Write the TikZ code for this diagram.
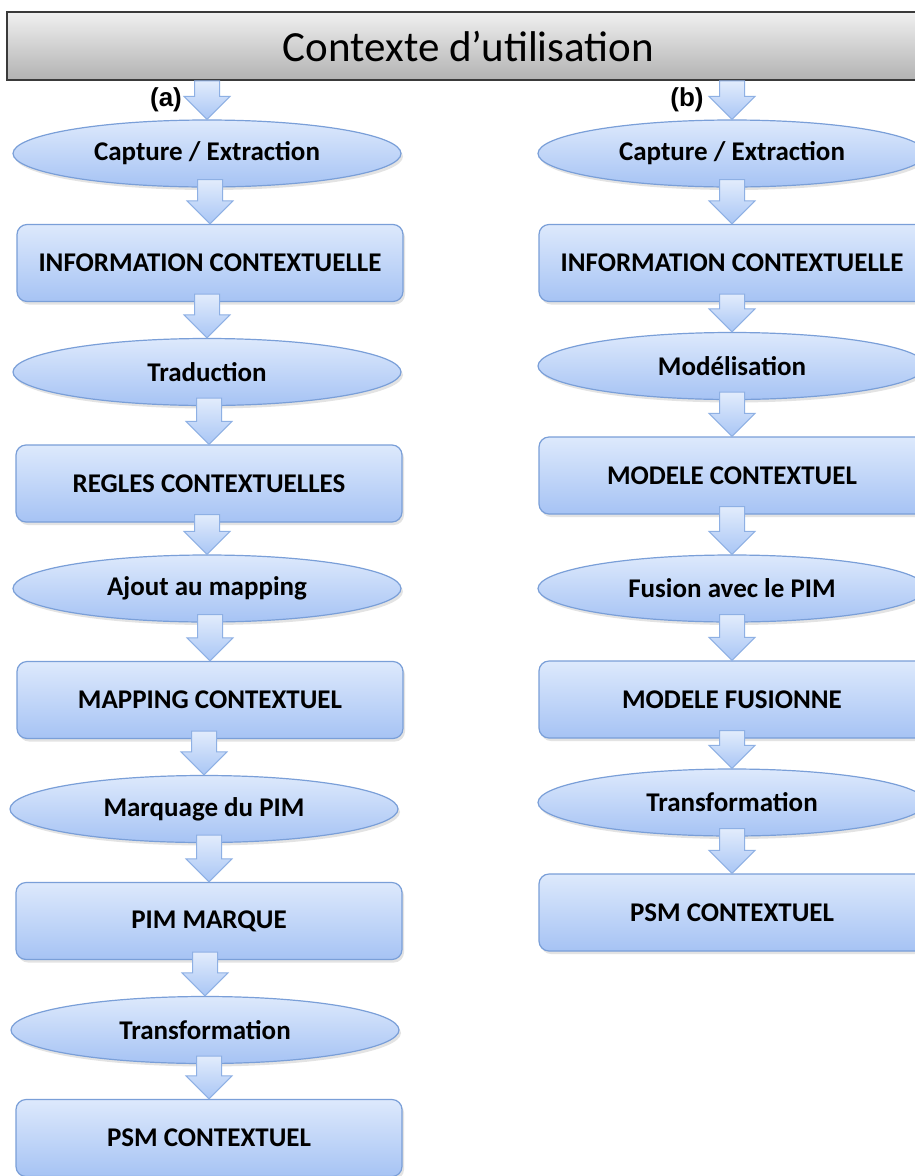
\documentclass[tikz,border=0pt]{standalone}
\usepackage{fontspec}
\setmainfont{Carlito}
\newfontfamily\labelfont{Liberation Sans}
\usetikzlibrary{shapes.geometric,shadows,calc}

\definecolor{boxtop}{HTML}{DDE9FC}
\definecolor{boxbot}{HTML}{A6C3F4}
\definecolor{boxline}{HTML}{7A9FD8}
\definecolor{arrowtop}{HTML}{E2ECFC}
\definecolor{arrowbot}{HTML}{A9C6F5}
\definecolor{arrowline}{HTML}{8EB0E4}
\definecolor{hdrtop}{HTML}{F0F0F0}
\definecolor{hdrbot}{HTML}{B2B2B2}
\definecolor{hdrline}{HTML}{3A3A3A}

\tikzset{
  stage/.style={draw=boxline, line width=1.2pt, top color=boxtop, bottom color=boxbot,
    drop shadow={opacity=0.22, shadow xshift=2pt, shadow yshift=-3pt},
    font=\fontsize{27}{32}\selectfont\bfseries, text=black, inner sep=0pt},
  box/.style={stage, rectangle, rounded corners=10pt, minimum width=386pt, minimum height=77pt},
  oval/.style={stage, ellipse, minimum width=388pt, minimum height=67pt},
  hdr/.style={rectangle, draw=hdrline, line width=1.5pt, top color=hdrtop, bottom color=hdrbot,
    minimum width=923pt, minimum height=68pt, inner sep=0pt,
    font=\fontsize{43}{50}\selectfont, text=black},
  lbl/.style={font=\labelfont\fontsize{26}{30}\selectfont\bfseries, inner sep=0pt},
  flow/.style={draw=arrowline, line width=1pt, top color=arrowtop, bottom color=arrowbot, line join=miter},
}

% block arrow from the bottom of #2 to the top of #3; #1 = overlap into #2
\newcommand\flowarrow[3][8]{%
  \path[flow] let \p1=(#2.south), \p2=(#3.north) in
    ({\x2-12.5pt},{\y1+#1pt}) -- ({\x2+12.5pt},{\y1+#1pt}) -- ({\x2+12.5pt},{\y2+23pt})
    -- ({\x2+23pt},{\y2+23pt}) -- (\x2,\y2) -- ({\x2-23pt},{\y2+23pt})
    -- ({\x2-12.5pt},{\y2+23pt}) -- cycle;}

\begin{document}
\begin{tikzpicture}[x=1pt,y=-1pt]
  \useasboundingbox (0,0) rectangle (915,1176);
  \fill[white] (0,0) rectangle (915,1176);
  \clip (0,0) rectangle (915,1176);

  % header
  \node[hdr] (ctx) at (468.5,46) {Contexte d’utilisation};

  % column (a)
  \node[oval] (a1) at (207,153.5) {Capture / Extraction};
  \node[box]  (a2) at (210,263)   {INFORMATION CONTEXTUELLE};
  \node[oval] (a3) at (207,372)   {Traduction};
  \node[box]  (a4) at (209,483.5) {REGLES CONTEXTUELLES};
  \node[oval] (a5) at (207,588.5) {Ajout au mapping};
  \node[box]  (a6) at (210,700)   {MAPPING CONTEXTUEL};
  \node[oval] (a7) at (204,809)   {Marquage du PIM};
  \node[box]  (a8) at (209,921)   {PIM MARQUE};
  \node[oval] (a9) at (205,1030)  {Transformation};
  \node[box]  (a10) at (209,1138) {PSM CONTEXTUEL};

  % column (b)
  \node[oval] (b1) at (732,153.5) {Capture / Extraction};
  \node[box]  (b2) at (732,263)   {INFORMATION CONTEXTUELLE};
  \node[oval] (b3) at (732,366)   {Modélisation};
  \node[box]  (b4) at (732,475.5) {MODELE CONTEXTUEL};
  \node[oval] (b5) at (732,588.5) {Fusion avec le PIM};
  \node[box]  (b6) at (732,699.5) {MODELE FUSIONNE};
  \node[oval] (b7) at (732,802.5) {Transformation};
  \node[box]  (b8) at (732,912.5) {PSM CONTEXTUEL};

  % column labels
  \node[lbl] (la) at (166,100) {(a)};
  \node[lbl] (lb) at (687,100) {(b)};

  % arrows, column (a)
  \flowarrow[0]{ctx}{a1}
  \flowarrow{a1}{a2}
  \flowarrow{a2}{a3}
  \flowarrow{a3}{a4}
  \flowarrow{a4}{a5}
  \flowarrow{a5}{a6}
  \flowarrow{a6}{a7}
  \flowarrow{a7}{a8}
  \flowarrow{a8}{a9}
  \flowarrow{a9}{a10}

  % arrows, column (b)
  \flowarrow[0]{ctx}{b1}
  \flowarrow{b1}{b2}
  \flowarrow{b2}{b3}
  \flowarrow{b3}{b4}
  \flowarrow{b4}{b5}
  \flowarrow{b5}{b6}
  \flowarrow{b6}{b7}
  \flowarrow{b7}{b8}
\end{tikzpicture}
\end{document}
